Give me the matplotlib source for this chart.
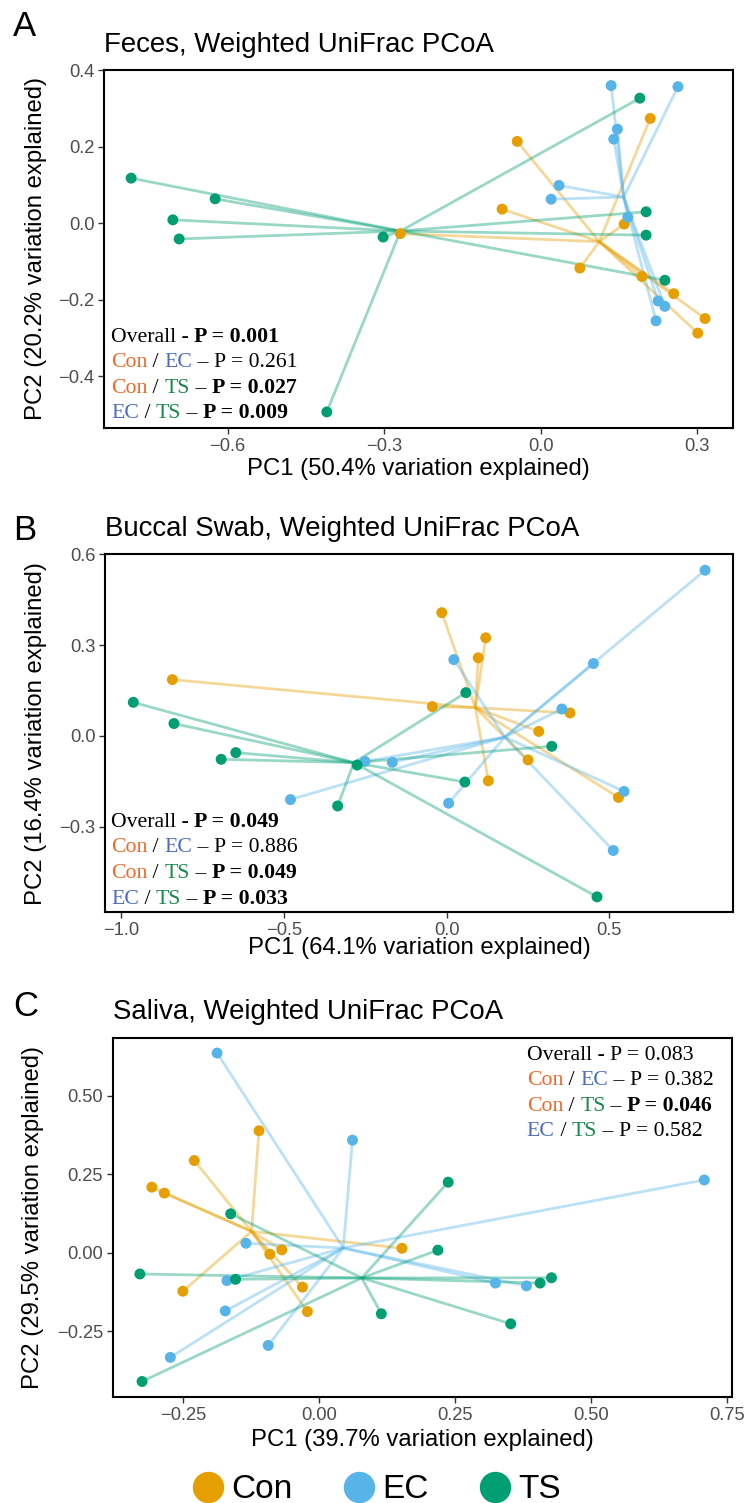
import matplotlib
matplotlib.use("Agg")
import matplotlib.pyplot as plt
from matplotlib.lines import Line2D
import numpy as np

W, H = 749, 1503
fig = plt.figure(figsize=(W / 100, H / 100), dpi=100)

SANS = ["Liberation Sans", "DejaVu Sans"]
SERIF = ["Liberation Serif", "DejaVu Serif"]

groups = ["Con", "EC", "TS"]
point_colors = {"Con": "#E69F00", "EC": "#56B4E9", "TS": "#009E73"}
text_colors = {"Con": "#EE6A2C", "EC": "#4B6BC6", "TS": "#17894B"}

# ---------------- data ----------------
feces_con_x = [-0.269, -0.045, -0.074, 0.075, 0.160, 0.210, 0.194, 0.255, 0.315, 0.301]
feces_con_y = [-0.027, 0.214, 0.037, -0.117, -0.002, 0.274, -0.139, -0.184, -0.249, -0.287]
feces_ec_x = [0.135, 0.263, 0.147, 0.140, 0.035, 0.020, 0.167, 0.225, 0.238, 0.221]
feces_ec_y = [0.360, 0.357, 0.246, 0.220, 0.099, 0.063, 0.016, -0.203, -0.217, -0.255]
feces_ts_x = [-0.785, -0.624, -0.705, -0.693, -0.302, -0.410, 0.190, 0.202, 0.202, 0.238]
feces_ts_y = [0.118, 0.064, 0.009, -0.041, -0.036, -0.493, 0.327, 0.030, -0.031, -0.149]

buccal_con_x = [-0.843, -0.015, 0.120, 0.097, -0.044, 0.379, 0.283, 0.250, 0.128, 0.528]
buccal_con_y = [0.186, 0.407, 0.324, 0.258, 0.097, 0.076, 0.015, -0.079, -0.148, -0.203]
buccal_ec_x = [0.794, 0.451, 0.022, 0.354, -0.167, -0.480, 0.006, 0.545, 0.512, -0.251]
buccal_ec_y = [0.547, 0.239, 0.252, 0.089, -0.087, -0.210, -0.222, -0.183, -0.378, -0.084]
buccal_ts_x = [-0.963, -0.838, -0.648, -0.693, -0.275, -0.335, 0.059, 0.323, 0.056, 0.462]
buccal_ts_y = [0.111, 0.041, -0.055, -0.077, -0.096, -0.231, 0.143, -0.034, -0.152, -0.531]

saliva_con_x = [-0.111, -0.230, -0.308, -0.285, -0.091, -0.069, -0.251, -0.031, -0.022, 0.152]
saliva_con_y = [0.389, 0.294, 0.209, 0.190, -0.005, 0.009, -0.123, -0.110, -0.188, 0.014]
saliva_ec_x = [-0.188, 0.061, 0.708, -0.135, -0.170, -0.173, -0.094, -0.274, 0.324, 0.381]
saliva_ec_y = [0.637, 0.359, 0.232, 0.030, -0.089, -0.186, -0.296, -0.334, -0.097, -0.106]
saliva_ts_x = [-0.163, 0.237, 0.218, -0.330, -0.154, -0.326, 0.114, 0.352, 0.406, 0.427]
saliva_ts_y = [0.124, 0.225, 0.008, -0.068, -0.085, -0.411, -0.195, -0.227, -0.097, -0.080]

feces_title = "Feces, Weighted UniFrac PCoA"
buccal_title = "Buccal Swab, Weighted UniFrac PCoA"
saliva_title = "Saliva, Weighted UniFrac PCoA"

feces_xlabel = "PC1 (50.4% variation explained)"
feces_ylabel = "PC2 (20.2% variation explained)"
buccal_xlabel = "PC1 (64.1% variation explained)"
buccal_ylabel = "PC2 (16.4% variation explained)"
saliva_xlabel = "PC1 (39.7% variation explained)"
saliva_ylabel = "PC2 (29.5% variation explained)"

feces_xticks = [-0.6, -0.3, 0.0, 0.3]
feces_yticks = [-0.4, -0.2, 0.0, 0.2, 0.4]
buccal_xticks = [-1.0, -0.5, 0.0, 0.5]
buccal_yticks = [-0.3, 0.0, 0.3, 0.6]
saliva_xticks = [-0.25, 0.0, 0.25, 0.50, 0.75]
saliva_yticks = [-0.25, 0.0, 0.25, 0.50]

# p-values: (label, value, bold)
feces_pvals = [("Overall", "0.001", True), ("Con/EC", "0.261", False),
               ("Con/TS", "0.027", True), ("EC/TS", "0.009", True)]
buccal_pvals = [("Overall", "0.049", True), ("Con/EC", "0.886", False),
                ("Con/TS", "0.049", True), ("EC/TS", "0.033", True)]
saliva_pvals = [("Overall", "0.083", False), ("Con/EC", "0.382", False),
                ("Con/TS", "0.046", True), ("EC/TS", "0.582", False)]


def fx(x):
    return x / W


def fy(y):
    return 1 - y / H


def fmt(v, nd):
    s = f"{abs(v):.{nd}f}"
    return ("\u2212" + s) if v < 0 else s


def rich_line(ax, x, y, pieces, size):
    t = ax.text(fx(x), fy(y), pieces[0][0], color=pieces[0][1],
                fontweight=pieces[0][2], fontsize=size, family=SERIF,
                ha="left", va="baseline", transform=fig.transFigure)
    for s, c, w in pieces[1:]:
        t = ax.annotate(s, xy=(1, 0), xycoords=t, ha="left", va="bottom",
                        color=c, fontweight=w, fontsize=size, family=SERIF,
                        annotation_clip=False)


def pval_pieces(label, val, bold):
    w = "bold" if bold else "normal"
    if label == "Overall":
        return [("Overall - ", "black", "normal"), (f"P = {val}", "black", w)]
    a, b = label.split("/")
    return [(a, text_colors[a], "normal"), (" / ", "black", "normal"),
            (b, text_colors[b], "normal"), (" \u2013 ", "black", "normal"),
            (f"P = {val}", "black", w)]


panels = [
    dict(letter="A", title=feces_title, xl=feces_xlabel, yl=feces_ylabel,
         data={"Con": (feces_con_x, feces_con_y), "EC": (feces_ec_x, feces_ec_y),
               "TS": (feces_ts_x, feces_ts_y)},
         box=(104, 70, 732.7, 428), xlim=(-0.837, 0.368), ylim=(-0.535, 0.4006),
         xt=feces_xticks, yt=feces_yticks, nd=1,
         letter_y=26, title_y=45, xl_y=469, yl_x=36,
         pv=feces_pvals, pv_x=111, pv_y=[341.7, 367.2, 392.7, 418.3]),
    dict(letter="B", title=buccal_title, xl=buccal_xlabel, yl=buccal_ylabel,
         data={"Con": (buccal_con_x, buccal_con_y), "EC": (buccal_ec_x, buccal_ec_y),
               "TS": (buccal_ts_x, buccal_ts_y)},
         box=(105.3, 554, 732.7, 912.3), xlim=(-1.049, 0.879), ylim=(-0.582, 0.6006),
         xt=buccal_xticks, yt=buccal_yticks, nd=1,
         letter_y=530, title_y=529, xl_y=948, yl_x=36,
         pv=buccal_pvals, pv_x=111, pv_y=[826.7, 852.3, 878.3, 904.3]),
    dict(letter="C", title=saliva_title, xl=saliva_xlabel, yl=saliva_ylabel,
         data={"Con": (saliva_con_x, saliva_con_y), "EC": (saliva_ec_x, saliva_ec_y),
               "TS": (saliva_ts_x, saliva_ts_y)},
         box=(112.7, 1037.7, 732, 1397.3), xlim=(-0.380, 0.759), ylim=(-0.4615, 0.686),
         xt=saliva_xticks, yt=saliva_yticks, nd=2,
         letter_y=1006, title_y=1012, xl_y=1440, yl_x=33,
         pv=saliva_pvals, pv_x=526.7, pv_y=[1060, 1085.3, 1110.6, 1135.7]),
]

for p in panels:
    l, t, r, b = p["box"]
    ax = fig.add_axes([fx(l), fy(b), (r - l) / W, (b - t) / H])
    ax.set_xlim(*p["xlim"])
    ax.set_ylim(*p["ylim"])
    # spider segments
    for g in groups:
        xs, ys = p["data"][g]
        cx, cy = np.mean(xs), np.mean(ys)
        for x, y in zip(xs, ys):
            ax.plot([x, cx], [y, cy], color=point_colors[g], alpha=0.4, lw=2.0,
                    solid_capstyle="butt", zorder=2)
    for g in groups:
        xs, ys = p["data"][g]
        ax.scatter(xs, ys, s=62, color=point_colors[g], edgecolors="none", zorder=3)
    for s in ax.spines.values():
        s.set_linewidth(1.5)
        s.set_color("black")
    ax.set_xticks(p["xt"])
    ax.set_yticks(p["yt"])
    ax.set_xticklabels([fmt(v, p["nd"]) for v in p["xt"]])
    ax.set_yticklabels([fmt(v, p["nd"]) for v in p["yt"]])
    ax.tick_params(axis="both", direction="out", length=4, width=1.0, color="#333333",
                   labelcolor="#4D4D4D", labelsize=13.2, pad=3)
    for lab in ax.get_xticklabels() + ax.get_yticklabels():
        lab.set_family(SANS)

    fig.text(fx(13), fy(p["letter_y"]), p["letter"], fontsize=25, family=SANS,
             ha="left", va="center")
    fig.text(fx(l), fy(p["title_y"]), p["title"], fontsize=19.9, family=SANS,
             ha="left", va="center")
    fig.text(fx((l + r) / 2), fy(p["xl_y"]), p["xl"], fontsize=17.2, family=SANS,
             ha="center", va="center")
    fig.text(fx(p["yl_x"]), fy((t + b) / 2), p["yl"], fontsize=17.2, family=SANS,
             ha="center", va="center", rotation=90)

    for (lab, val, bold), yy in zip(p["pv"], p["pv_y"]):
        rich_line(ax, p["pv_x"], yy, pval_pieces(lab, val, bold), 15.7)

handles = [Line2D([], [], marker="o", ls="", color=point_colors[g], markersize=21.6,
                  label=g) for g in groups]
leg = fig.legend(handles=handles, loc="center", bbox_to_anchor=(fx(376), fy(1490)),
                 ncol=3, frameon=False, handletextpad=0.2,
                 columnspacing=1.5, handlelength=1.0, borderpad=0.1,
                 prop={"family": SANS, "size": 24})

fig.savefig("out.png", dpi=100)
